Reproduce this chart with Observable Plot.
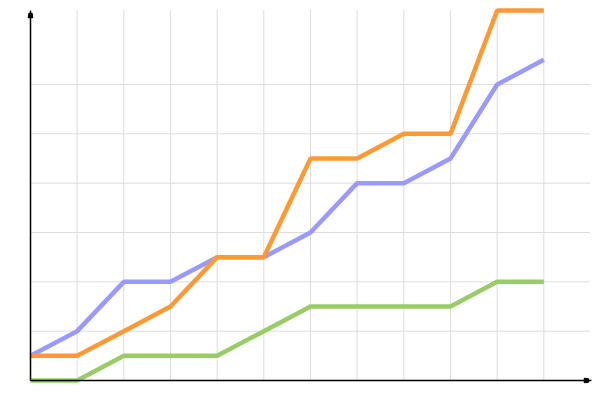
<!DOCTYPE html>
<html>
<head>
<meta charset="utf-8">
<script src="https://cdn.jsdelivr.net/npm/d3@7"></script>
<script src="https://cdn.jsdelivr.net/npm/@observablehq/plot@0.6"></script>
<style>
  html, body { margin: 0; padding: 0; background: #fff; }
  #chart svg { display: block; }
</style>
</head>
<body>
<div id="chart"></div>
<script>
const periods = [0, 1, 2, 3, 4, 5, 6, 7, 8, 9, 10, 11];
const seriesA = [1, 1, 2, 3, 5, 5, 9, 9, 10, 10, 15, 15];
const seriesB = [1, 2, 4, 4, 5, 5, 6, 8, 8, 9, 12, 13];
const seriesC = [0, 0, 1, 1, 1, 2, 3, 3, 3, 3, 4, 4];
const xGridTicks = [1, 2, 3, 4, 5, 6, 7, 8, 9, 10, 11];
const yGridTicks = [2, 4, 6, 8, 10, 12];

const seriesList = [
  {name: "C", values: seriesC, color: "#99cc66"},
  {name: "B", values: seriesB, color: "#9999ff"},
  {name: "A", values: seriesA, color: "#ff9933"}
];

const rows = seriesList.flatMap(s => periods.map((p, i) => ({series: s.name, x: p, y: s.values[i]})));

function tri(color) {
  const m = d3.create("svg:marker")
    .attr("viewBox", "-10 -5 12 10")
    .attr("markerWidth", 12)
    .attr("markerHeight", 10)
    .attr("markerUnits", "userSpaceOnUse")
    .attr("refX", 0)
    .attr("refY", 0)
    .attr("orient", "auto");
  m.append("path").attr("d", "M-7,-2L-3,-1.5L-3,1.5L-7,2Z").attr("fill", "black");
  return m.node();
}

const axisLines = [
  {x1: 0, y1: 0, x2: 12.02, y2: 0},
  {x1: 0, y1: 0, x2: 0, y2: 15}
];

const chart = Plot.plot({
  width: 600,
  height: 400,
  marginLeft: 30,
  marginRight: 10,
  marginTop: 10,
  marginBottom: 20,
  x: {domain: [0, 12], axis: null},
  y: {domain: [0, 15], axis: null},
  color: {type: "ordinal", domain: seriesList.map(s => s.name), range: seriesList.map(s => s.color)},
  marks: [
    Plot.gridX(xGridTicks, {stroke: "#dddddd", strokeOpacity: 1, strokeWidth: 1}),
    Plot.gridY(yGridTicks, {stroke: "#dddddd", strokeOpacity: 1, strokeWidth: 1}),
    Plot.line(rows, {x: "x", y: "y", z: "series", stroke: "series", strokeWidth: 4.5, strokeLinejoin: "miter", strokeLinecap: "butt"}),
    Plot.link(axisLines, {x1: "x1", y1: "y1", x2: "x2", y2: "y2", stroke: "black", strokeWidth: 1.5, markerEnd: tri})
  ]
});
document.getElementById("chart").appendChild(chart);
</script>
</body>
</html>
